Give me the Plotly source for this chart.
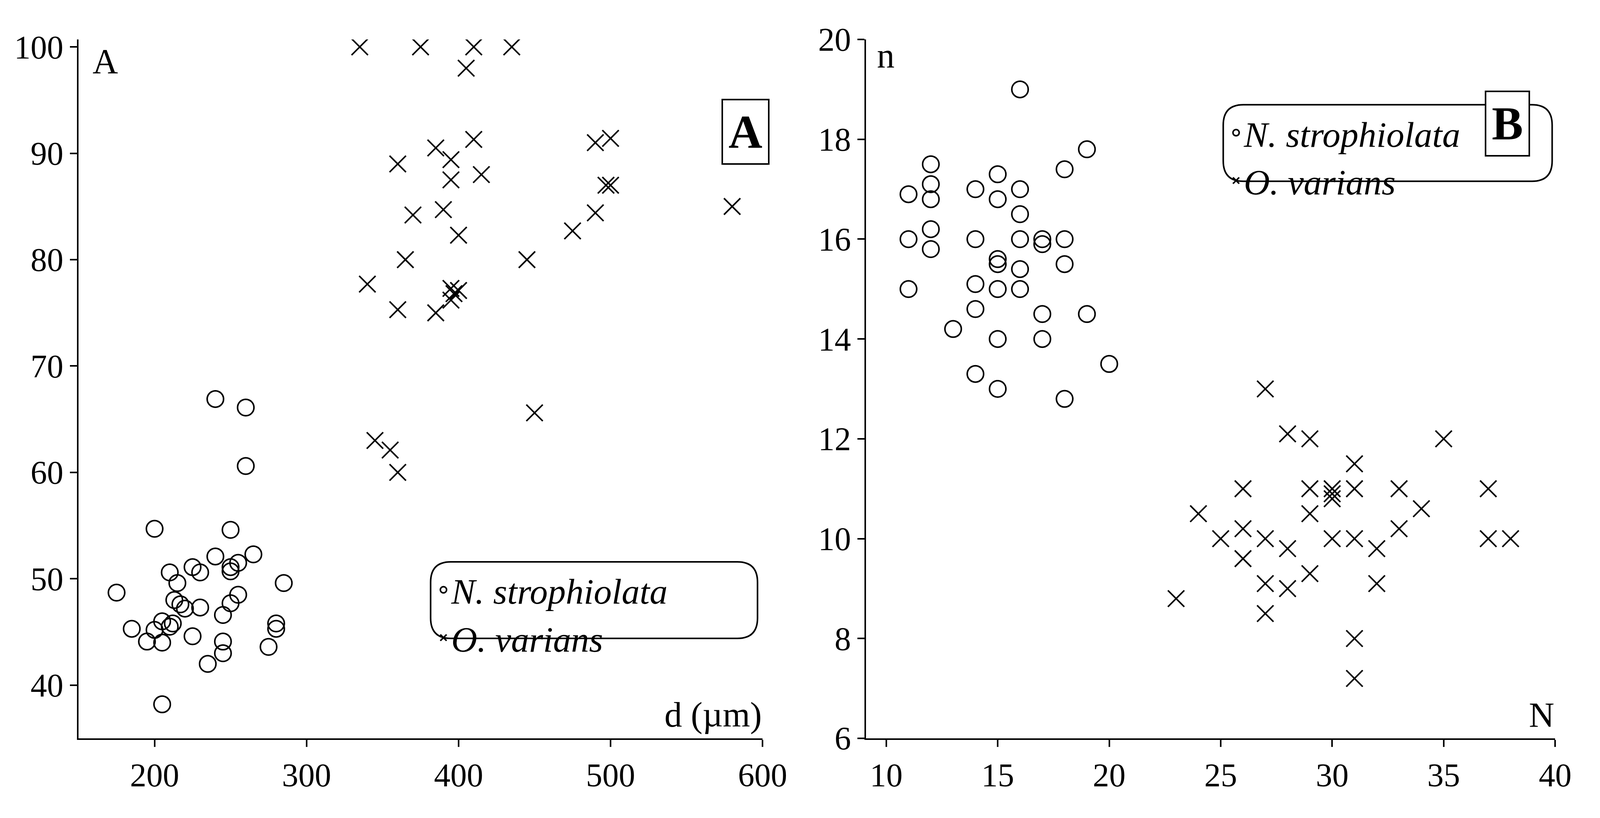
import plotly.graph_objects as go
from plotly.subplots import make_subplots

# panel A: d (um) vs A
a_circ_x = [175, 185, 195, 200, 200, 205, 205, 205, 210, 210, 212, 213, 215, 217, 220, 225, 225, 230, 230,
            235, 240, 240, 245, 245, 245, 250, 250, 250, 250, 255, 255, 260, 260, 265, 275, 280, 280, 285]
a_circ_y = [48.7, 45.3, 44.1, 45.2, 54.7, 46, 44, 38.2, 45.5, 50.6, 45.8, 48, 49.6, 47.6, 47.2, 51.1, 44.6, 50.6, 47.3,
            42, 52.1, 66.9, 46.6, 44.1, 43, 54.6, 51.1, 50.7, 47.7, 51.5, 48.5, 66.1, 60.6, 52.3, 43.6, 45.8, 45.3, 49.6]
a_x_x = [335, 375, 410, 435, 405, 345, 355, 360, 340, 360, 360, 365, 370, 385, 385, 390, 395, 395, 395, 395, 397,
         400, 400, 410, 415, 445, 450, 475, 490, 490, 497, 500, 500, 580]
a_x_y = [100, 100, 100, 100, 98, 63, 62.1, 60, 77.7, 75.3, 89, 80, 84.2, 90.5, 75, 84.7, 89.4, 87.5, 77.3, 76.2, 76.8,
         77.1, 82.3, 91.3, 88, 80, 65.6, 82.7, 91, 84.4, 87, 91.4, 87, 85]

# panel B: N vs n
b_circ_x = [11, 11, 11, 12, 12, 12, 12, 12, 13, 14, 14, 14, 14, 14, 15, 15, 15, 15, 15, 15, 15,
            16, 16, 16, 16, 16, 16, 17, 17, 17, 17, 18, 18, 18, 18, 19, 19, 20]
b_circ_y = [16.9, 16, 15, 17.5, 17.1, 16.8, 16.2, 15.8, 14.2, 17, 16, 15.1, 14.6, 13.3, 17.3, 16.8, 15.6, 15.5, 15, 14, 13,
            19, 17, 16.5, 16, 15.4, 15, 16, 15.9, 14.5, 14, 17.4, 16, 15.5, 12.8, 17.8, 14.5, 13.5]
b_x_x = [23, 24, 25, 26, 26, 26, 27, 27, 27, 27, 28, 28, 28, 29, 29, 29, 29, 30, 30, 30, 30,
         31, 31, 31, 31, 31, 32, 32, 33, 33, 34, 35, 37, 37, 38]
b_x_y = [8.8, 10.5, 10, 11, 10.2, 9.6, 13, 10, 9.1, 8.5, 12.1, 9.8, 9, 12, 11, 10.5, 9.3, 11, 10.9, 10.8, 10,
         11.5, 11, 10, 8, 7.2, 9.8, 9.1, 11, 10.2, 10.6, 12, 11, 10, 10]

FONT = "Liberation Serif"

circ = dict(symbol="circle-open", size=42, color="black", line=dict(width=4, color="black"))
cross = dict(symbol="x-thin-open", size=42, color="black", line=dict(width=4, color="black"))

fig = make_subplots(rows=1, cols=2)
fig.add_trace(go.Scatter(x=a_circ_x, y=a_circ_y, mode="markers", marker=circ,
                         name="<i>N. strophiolata</i>", legend="legend"), 1, 1)
fig.add_trace(go.Scatter(x=a_x_x, y=a_x_y, mode="markers", marker=cross,
                         name="<i>O. varians</i>", legend="legend"), 1, 1)
fig.add_trace(go.Scatter(x=b_circ_x, y=b_circ_y, mode="markers", marker=circ,
                         name="<i>N. strophiolata</i>", legend="legend2"), 1, 2)
fig.add_trace(go.Scatter(x=b_x_x, y=b_x_y, mode="markers", marker=cross,
                         name="<i>O. varians</i>", legend="legend2"), 1, 2)

ax = dict(showgrid=False, zeroline=False, showline=True, linecolor="black", linewidth=4,
          ticks="outside", ticklen=18, tickwidth=4, tickcolor="black",
          tickfont=dict(family=FONT, size=84, color="black"))
fig.update_xaxes(**ax)
fig.update_yaxes(**ax)
fig.update_xaxes(domain=[75 / 1560, 755 / 1560], range=[150, 600], dtick=100, row=1, col=1)
fig.update_yaxes(domain=[1 - 703 / 760, 1 - 18 / 760], range=[35, 100.7], dtick=10, row=1, col=1)
fig.update_xaxes(domain=[858 / 1560, 1543 / 1560], range=[9.1, 40], dtick=5, row=1, col=2)
fig.update_yaxes(domain=[1 - 703 / 760, 1 - 18 / 760], range=[6, 20], dtick=2, row=1, col=2)


def px(x, y):
    return x / 1560, 1 - y / 760


def rounded(x0, y0, x1, y1, r):
    rx, ry = r / 1560, r / 760
    a0, b1 = px(x0, y0)
    a1, b0 = px(x1, y1)
    return (f"M {a0 + rx} {b1} L {a1 - rx} {b1} Q {a1} {b1} {a1} {b1 - ry} "
            f"L {a1} {b0 + ry} Q {a1} {b0} {a1 - rx} {b0} L {a0 + rx} {b0} "
            f"Q {a0} {b0} {a0} {b0 + ry} L {a0} {b1 - ry} Q {a0} {b1} {a0 + rx} {b1} Z")


shapes = [dict(type="path", xref="paper", yref="paper", path=rounded(425, 530, 750, 605, 20),
               line=dict(color="black", width=4)),
          dict(type="path", xref="paper", yref="paper", path=rounded(1213, 82, 1540, 157, 20),
               line=dict(color="black", width=4))]

lfont = dict(family=FONT, size=92, color="black")
leg = dict(xref="paper", yref="paper", bgcolor="rgba(0,0,0,0)", font=lfont,
           tracegroupgap=0, xanchor="left", yanchor="top")

anns = []
for text, x, y, xa, ya in [("A", 88, 20, "left", "top"), ("d (µm)", 755, 700, "right", "bottom"),
                           ("n", 868, 14, "left", "top"), ("N", 1543, 700, "right", "bottom")]:
    ax_, ay_ = px(x, y)
    anns.append(dict(text=text, x=ax_, y=ay_, xref="paper", yref="paper", xanchor=xa, yanchor=ya,
                     showarrow=False, font=dict(family=FONT, size=90, color="black")))
for text, x, y in [("A", 738, 76), ("B", 1518, 68)]:
    ax_, ay_ = px(x, y)
    anns.append(dict(text=f"<b>{text}</b>", x=ax_, y=ay_, xref="paper", yref="paper", showarrow=False,
                     font=dict(family=FONT, size=120, color="black"), bordercolor="black", borderwidth=4,
                     borderpad=14, bgcolor="white"))

fig.update_layout(
    autosize=True, margin=dict(l=0, r=0, t=0, b=0),
    plot_bgcolor="white", paper_bgcolor="white",
    shapes=shapes, annotations=anns,
    legend=dict(x=px(430, 532)[0], y=px(430, 532)[1], **leg),
    legend2=dict(x=px(1218, 84)[0], y=px(1218, 84)[1], **leg),
)
fig.write_html("out.html")
